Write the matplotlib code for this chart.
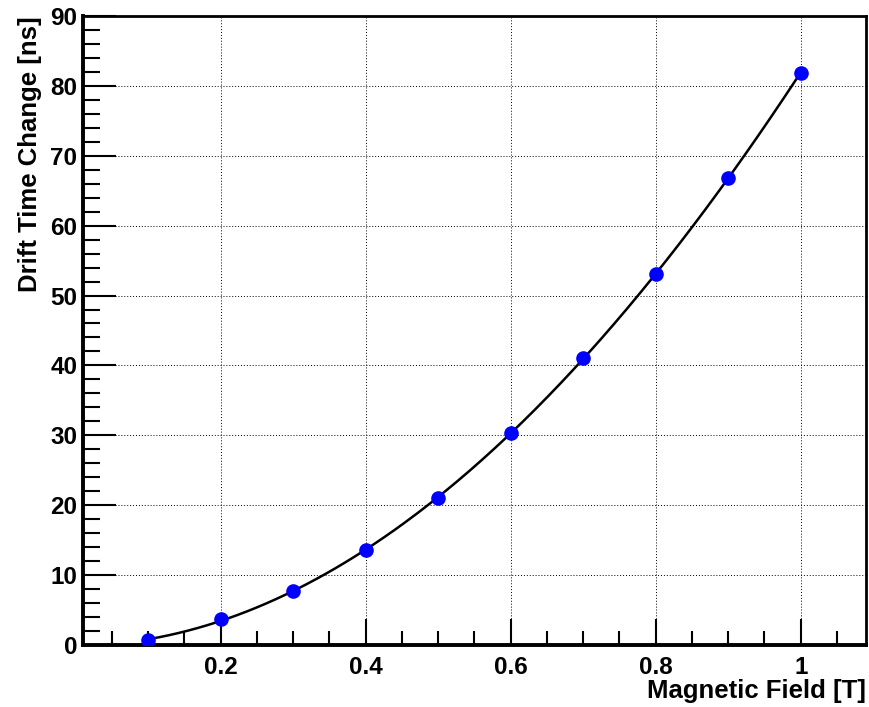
import numpy as np
import matplotlib.pyplot as plt
from matplotlib.ticker import MultipleLocator

# values
field = [0.1, 0.2, 0.3, 0.4, 0.5, 0.6, 0.7, 0.8, 0.9, 1.0]
drift_change = [0.7, 3.7, 7.7, 13.6, 21.0, 30.4, 41.0, 53.1, 66.8, 81.9]

plt.rcParams['font.family'] = ['Liberation Sans', 'DejaVu Sans']
plt.rcParams['font.weight'] = 'bold'

fig = plt.figure(figsize=(8.69, 7.07), dpi=100)
ax = fig.add_axes([0.0955, 0.0877, 0.901, 0.8897])

# smooth fit through the points
coef = np.polyfit(field, drift_change, 3)
xs = np.linspace(min(field), max(field), 200)
ax.plot(xs, np.polyval(coef, xs), color='black', lw=1.8, zorder=2)
ax.plot(field, drift_change, 'o', color='#0000ff', ms=9.5, zorder=3)

ax.set_xlim(0.01, 1.09)
ax.set_ylim(0, 90)
ax.xaxis.set_minor_locator(MultipleLocator(0.05))
ax.yaxis.set_major_locator(MultipleLocator(10))
ax.yaxis.set_minor_locator(MultipleLocator(2))
ax.set_xticks([0.2, 0.4, 0.6, 0.8, 1.0])
ax.set_xticklabels(['0.2', '0.4', '0.6', '0.8', '1'])

ax.tick_params(which='both', direction='in', top=False, right=False,
               labelsize=17.5, width=1.5, colors='black')
ax.tick_params(axis='y', which='major', length=24, pad=4)
ax.tick_params(axis='y', which='minor', length=12)
ax.tick_params(axis='x', which='major', length=19, pad=8)
ax.tick_params(axis='x', which='minor', length=10)

ax.grid(True, which='major', linestyle=(0, (1, 2)), color='black', lw=0.7)

ax.spines['left'].set_linewidth(2.8)
ax.spines['bottom'].set_linewidth(2.8)
ax.spines['top'].set_linewidth(2)
ax.spines['right'].set_linewidth(2)

ax.set_xlabel('Magnetic Field [T]', fontsize=18.5, fontweight='bold', loc='right', labelpad=0)
ax.set_ylabel('Drift Time Change [ns]', fontsize=18.5, fontweight='bold', loc='top', labelpad=6)

fig.savefig('out.png', dpi=100)
